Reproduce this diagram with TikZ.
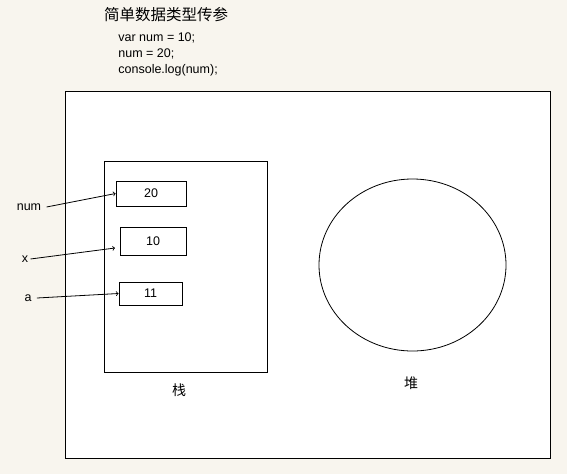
\documentclass[tikz,border=0pt]{standalone}
\usepackage{fontspec}
\setmainfont{Liberation Sans}
\newfontfamily\cjk{Noto Sans CJK SC}
\usetikzlibrary{shapes,arrows,positioning}
\definecolor{paper}{HTML}{F8F5EE}

\begin{document}
\begin{tikzpicture}[x=1pt, y=-1pt, line width=0.8pt, font=\fontsize{12.5}{16}\selectfont]
  \tikzset{
    cell/.style={draw, rectangle, inner sep=0pt},
    lbl/.style={inner sep=2pt},
    hanzi/.style={font=\cjk\fontsize{14}{16}\selectfont, inner sep=0pt}
  }
  \useasboundingbox [fill=paper] (0,0) rectangle (567,474);
  % title and code
  \node [hanzi, font=\cjk\fontsize{15.5}{18}\selectfont] (title) at (166,15) {简单数据类型传参};
  \node [anchor=west, align=left, inner sep=0pt] (code) at (118,54) {var num = 10;\\num = 20;\\console.log(num);};
  % memory
  \node [draw, fill=white, minimum width=485pt, minimum height=367pt] (mem) at (307.5,274.5) {};
  \node [draw, rectangle, minimum width=163pt, minimum height=211pt] (stack) at (185.5,266.5) {};
  \node [draw, ellipse, minimum width=187pt, minimum height=172pt, inner sep=0pt] (heap) at (412.5,265) {};
  \node [hanzi] (stacklbl) at (179,390) {栈};
  \node [hanzi] (heaplbl) at (411,383) {堆};
  % values
  \node [cell, minimum width=70pt, minimum height=25pt] (v20) at (151,193.5) {20};
  \node [cell, minimum width=66pt, minimum height=28pt] (v10) at (153,241) {10};
  \node [cell, minimum width=63pt, minimum height=23pt] (v11) at (150.5,293.5) {11};
  \coordinate (p10) at (115,248);
  % variables
  \node [lbl, inner sep=5pt] (lnum) at (29,207) {num};
  \node [lbl] (lx) at (25,259) {x};
  \node [lbl, inner sep=5pt] (la) at (28,298) {a};
  \draw [->] (lnum.east) -- (v20.west);
  \draw [->] (lx.east) -- (p10);
  \draw [->] (la.east) -- (v11.west);
\end{tikzpicture}
\end{document}
